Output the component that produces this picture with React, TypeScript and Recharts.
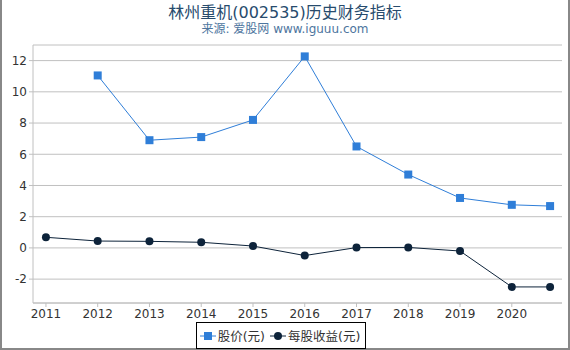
import React from "react";
import {
  LineChart,
  Line,
  XAxis,
  YAxis,
  CartesianGrid,
  Legend,
} from "recharts";

const years = [2011, 2012, 2013, 2014, 2015, 2016, 2017, 2018, 2019, 2020, 2020.74];
const price = [null, 11.05, 6.9, 7.1, 8.2, 12.27, 6.5, 4.7, 3.2, 2.76, 2.68];
const eps = [0.68, 0.44, 0.42, 0.36, 0.12, -0.49, 0.02, 0.03, -0.2, -2.5, -2.5];
const xTicks = [2011, 2012, 2013, 2014, 2015, 2016, 2017, 2018, 2019, 2020];
const yTicks = [-2, 0, 2, 4, 6, 8, 10, 12];

const BLUE = "#2f7ed8";
const DARK = "#0d233a";
const FONT = "'DejaVu Sans', 'Noto Sans CJK SC', sans-serif";

const data = years.map((y, i) => ({ year: y, price: price[i], eps: eps[i] }));

const SquareDot = (props: any) => {
  const { cx, cy, payload } = props;
  if (payload.price == null) return null;
  return <rect x={cx - 4} y={cy - 4} width={8} height={8} fill={BLUE} />;
};

const renderLegend = () => (
  <div style={{ display: "flex", justifyContent: "center" }}>
    <div
      style={{
        display: "flex",
        alignItems: "center",
        border: "1px solid #000",
        padding: "3px 5px 3px 3px",
        fontSize: 12.5,
        color: "#333",
        fontFamily: FONT,
        background: "#fff",
      }}
    >
      <svg width={16} height={10} style={{ marginRight: 2 }}>
        <line x1={0} y1={5} x2={16} y2={5} stroke={BLUE} strokeWidth={1} />
        <rect x={4} y={1} width={8} height={8} fill={BLUE} />
      </svg>
      <span style={{ marginRight: 5 }}>股价(元)</span>
      <svg width={16} height={10} style={{ marginRight: 2 }}>
        <line x1={0} y1={5} x2={16} y2={5} stroke={DARK} strokeWidth={1} />
        <circle cx={8} cy={5} r={4} fill={DARK} />
      </svg>
      <span>每股收益(元)</span>
    </div>
  </div>
);

export default function App() {
  return (
    <div
      style={{
        position: "absolute",
        left: 0,
        top: 0,
        width: 570,
        height: 350,
        background: "#fff",
        boxSizing: "border-box",
        borderLeft: "2px solid #888",
        borderRight: "2px solid #888",
        borderBottom: "2px solid #888",
        fontFamily: FONT,
      }}
    >
      <div
        style={{
          position: "absolute",
          top: -1,
          width: "100%",
          textAlign: "center",
          fontSize: 16,
          color: "#274b6d",
        }}
      >
        林州重机(002535)历史财务指标
      </div>
      <div
        style={{
          position: "absolute",
          top: 19,
          width: "100%",
          textAlign: "center",
          fontSize: 12,
          color: "#4d759e",
        }}
      >
        来源: 爱股网 www.iguuu.com
      </div>
      <div style={{ position: "absolute", left: -2, top: 0 }}>
        <LineChart
          width={570}
          height={349}
          data={data}
          margin={{ top: 45, right: 8, bottom: -1, left: 0 }}
        >
          <CartesianGrid horizontal vertical={false} stroke="#c0c0c0" />
          <XAxis
            dataKey="year"
            type="number"
            domain={[2010.75, 2020.97]}
            ticks={xTicks}
            interval={0}
            height={20}
            stroke="#c0c0c0"
            tickSize={4}
            tick={{ fill: "#333", fontSize: 12, fontFamily: FONT }}
          />
          <YAxis
            type="number"
            domain={[-3.53, 13]}
            ticks={yTicks}
            interval={0}
            width={33}
            stroke="#c0c0c0"
            tickSize={4}
            tick={{ fill: "#333", fontSize: 12, fontFamily: FONT }}
          />
          <Legend
            verticalAlign="bottom"
            content={renderLegend}
            wrapperStyle={{ bottom: 0 }}
          />
          <Line
            dataKey="price"
            stroke={BLUE}
            strokeWidth={1}
            dot={<SquareDot />}
            activeDot={false}
            connectNulls
            isAnimationActive={false}
          />
          <Line
            dataKey="eps"
            stroke={DARK}
            strokeWidth={1}
            dot={{ r: 4, fill: DARK, stroke: DARK, strokeWidth: 0 }}
            activeDot={false}
            isAnimationActive={false}
          />
        </LineChart>
      </div>
    </div>
  );
}
